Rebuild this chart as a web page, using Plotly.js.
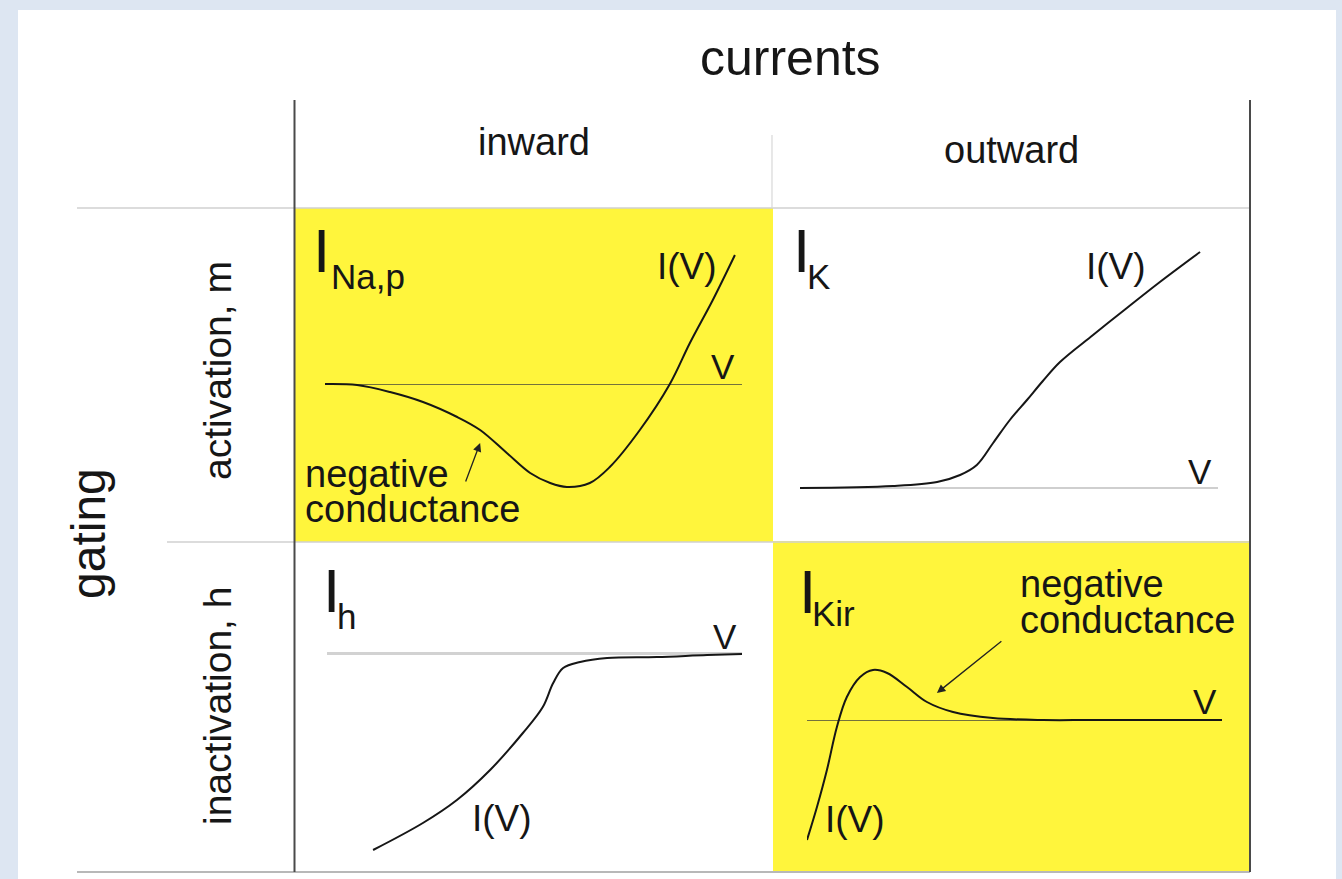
<!DOCTYPE html>
<html>
<head>
<meta charset="utf-8">
<script src="https://cdn.plot.ly/plotly-3.0.1.min.js"></script>
<style>
  html, body { margin: 0; padding: 0; background: #dde6f2; }
  #chart { width: 1342px; height: 879px; }
</style>
</head>
<body>
<div id="chart"></div>
<script>
// Schematic I-V curves of four gated currents.
// V is given in percent of the drawn voltage axis, I in arbitrary units (0 = the V axis).

// persistent sodium current, I_Na,p (activation, inward)
const napV = [0, 7.7, 15.6, 23.5, 31.7, 37.2, 43.6, 49.2, 54.0, 58.0, 63.5, 68.3, 75.5, 82.7, 87.5, 93.0, 98.3];
const napI = [0, -0.01, -0.08, -0.18, -0.33, -0.46, -0.69, -0.89, -0.99, -1.03, -0.99, -0.83, -0.46, 0, 0.41, 0.84, 1.29];

// delayed rectifier potassium current, I_K (activation, outward)
const kV = [0, 22.2, 32.8, 38.3, 42.3, 46.2, 50.2, 54.3, 58.1, 62.2, 70.1, 78.2, 86.1, 95.7];
const kI = [0, 0.02, 0.06, 0.13, 0.23, 0.45, 0.68, 0.88, 1.07, 1.26, 1.53, 1.80, 2.06, 2.36];

// hyperpolarization-activated current, I_h (inactivation, inward)
const hV = [11.1, 23.1, 31.3, 39.3, 47.2, 52.0, 54.5, 56.9, 61.0, 67.5, 79.5, 91.6, 100];
const hI = [-1.97, -1.70, -1.47, -1.17, -0.80, -0.54, -0.30, -0.15, -0.09, -0.05, -0.04, -0.02, -0.01];

// inward rectifier potassium current, I_Kir (inactivation, outward)
const kirV = [0, 2.4, 4.8, 7.2, 9.6, 12.8, 15.9, 19.3, 24.1, 28.9, 35.2, 44.8, 56.9, 68.9, 100];
const kirI = [-1.20, -0.87, -0.50, -0.07, 0.23, 0.43, 0.50, 0.47, 0.33, 0.18, 0.08, 0.02, 0.0, 0.0, 0.0];

// Tip and tail of the "negative conductance" pointers, in each panel's V/I units
const napArrow = { v: 37.2, i: -0.59, tailV: 33.6, tailI: -0.99 };
const kirArrow = { v: 31.3, i: 0.27, tailV: 47.2, tailI: 0.80 };

// Text
const colHeader = 'currents';
const colLabels = ['inward', 'outward'];
const rowHeader = 'gating';
const rowLabels = ['activation, m', 'inactivation, h'];
const currentSubs = ['Na,p', 'K', 'h', 'Kir'];

// ---------- layout geometry (pixels) ----------
const W = 1342, H = 879;
const PX_PER_UNIT = 100;
const fx = x => x / W;
const fy = y => 1 - y / H;

// each panel: extent of the V axis, cell top/bottom, pixel row of I = 0, V-axis line style
const panels = [
  { ax0: 325, ax1: 742, top: 208, bottom: 542, zero: 384, zc: 'rgba(70,70,60,0.75)', zw: 1 },
  { ax0: 800, ax1: 1218, top: 208, bottom: 542, zero: 488, zc: '#cfcfcf', zw: 1.5 },
  { ax0: 327, ax1: 742, top: 542, bottom: 872, zero: 653, zc: '#d2d2d2', zw: 3 },
  { ax0: 807, ax1: 1222, top: 542, bottom: 872, zero: 720, zc: 'rgba(70,70,60,0.75)', zw: 1 }
];

const series = [[napV, napI], [kV, kI], [hV, hI], [kirV, kirI]];
const INK = '#161616';

const data = series.map((s, k) => ({
  x: s[0], y: s[1],
  xaxis: k === 0 ? 'x' : 'x' + (k + 1),
  yaxis: k === 0 ? 'y' : 'y' + (k + 1),
  type: 'scatter', mode: 'lines',
  line: { shape: 'spline', smoothing: 1.0, color: INK, width: 2 },
  hoverinfo: 'skip'
}));

const layout = {
  width: W, height: H,
  margin: { l: 0, r: 0, t: 0, b: 0, pad: 0 },
  paper_bgcolor: '#dde6f2',
  plot_bgcolor: 'rgba(0,0,0,0)',
  showlegend: false,
  font: { family: 'Liberation Sans, Arial, Helvetica, sans-serif', color: INK },
  shapes: [],
  annotations: []
};

panels.forEach((p, k) => {
  const sx = k === 0 ? '' : String(k + 1);
  layout['xaxis' + sx] = {
    domain: [fx(p.ax0), fx(p.ax1)], range: [0, 100],
    anchor: 'y' + sx,
    showgrid: false, zeroline: false, showline: false,
    showticklabels: false, ticks: '', fixedrange: true
  };
  layout['yaxis' + sx] = {
    domain: [fy(p.bottom), fy(p.top)],
    range: [-(p.bottom - p.zero) / PX_PER_UNIT, (p.zero - p.top) / PX_PER_UNIT],
    anchor: 'x' + sx,
    showgrid: false, zeroline: true, zerolinecolor: p.zc, zerolinewidth: p.zw,
    showline: false, showticklabels: false, ticks: '', fixedrange: true
  };
});

// ---------- background sheet, highlighted cells and table rules ----------
const rect = (x0, y0, x1, y1, fill) => ({
  type: 'rect', xref: 'paper', yref: 'paper', layer: 'below',
  x0: fx(x0), x1: fx(x1), y0: fy(y1), y1: fy(y0),
  fillcolor: fill, line: { width: 0 }
});
const rule = (x0, y0, x1, y1, color, width) => ({
  type: 'line', xref: 'paper', yref: 'paper', layer: 'below',
  x0: fx(x0), x1: fx(x1), y0: fy(y0), y1: fy(y1),
  line: { color: color, width: width }
});

const YELLOW = '#fff53c';
layout.shapes.push(
  rect(18, 10, 1336, 879, '#ffffff'),
  rect(295, 208, 773, 542, YELLOW),
  rect(773, 541, 1250, 872, YELLOW),
  rule(77, 208, 1250, 208, '#d0d0d0', 1.5),
  rule(167, 542, 1250, 542, '#d0d0d0', 1.5),
  rule(77, 872, 1250, 872, '#b8b8b8', 2),
  rule(772, 135, 772, 208, '#d8d8d8', 1.2),
  rule(294.5, 100, 294.5, 872, '#4a4a4a', 2),
  rule(1250, 100, 1250, 872, '#4a4a4a', 2)
);

// ---------- text ----------
const txt = (text, x, y, size, extra) => Object.assign({
  text: text, xref: 'paper', yref: 'paper', x: fx(x), y: fy(y),
  xanchor: 'center', yanchor: 'middle', showarrow: false,
  font: { size: size, color: INK }
}, extra || {});

layout.annotations.push(
  txt(colHeader, 790, 58, 50),
  txt(colLabels[0], 534, 142, 38),
  txt(colLabels[1], 1011, 150, 38),
  txt(rowHeader, 88, 534, 48, { textangle: -90 }),
  txt(rowLabels[0], 217, 371, 39, { textangle: -90 }),
  txt(rowLabels[1], 217, 706, 39, { textangle: -90 })
);

// current names: a large "I" with its subscript
const names = [
  { ix: 311, iy: 250.5, sx: 329, sy: 276 },
  { ix: 791, iy: 250.5, sx: 805, sy: 276 },
  { ix: 321, iy: 590.5, sx: 335, sy: 616 },
  { ix: 797, iy: 591.5, sx: 810, sy: 613 }
];
names.forEach((n, k) => {
  layout.annotations.push(
    txt('I', n.ix, n.iy, 62, { xanchor: 'left' }),
    txt(currentSubs[k], n.sx, n.sy, 35, { xanchor: 'left' })
  );
});

// curve and axis labels
const ivPos = [[687, 266], [1116, 266], [502, 818], [855, 819]];
const vPos = [[723, 366], [1200, 471], [725, 636], [1205, 701]];
ivPos.forEach(p => layout.annotations.push(txt('I(V)', p[0], p[1], 37)));
vPos.forEach(p => layout.annotations.push(txt('V', p[0], p[1], 35)));

// "negative conductance" notes
layout.annotations.push(
  txt('negative', 303, 474, 38, { xanchor: 'left' }),
  txt('conductance', 303, 509, 38, { xanchor: 'left' }),
  txt('negative', 1018, 584, 38, { xanchor: 'left' }),
  txt('conductance', 1018, 620, 38, { xanchor: 'left' })
);

const pointer = (a, xr, yr) => ({
  text: '', xref: xr, yref: yr, axref: xr, ayref: yr,
  x: a.v, y: a.i, ax: a.tailV, ay: a.tailI,
  showarrow: true, arrowhead: 2, arrowsize: 1.3, arrowwidth: 1.3,
  arrowcolor: '#222', standoff: 0, startstandoff: 0
});
layout.annotations.push(pointer(napArrow, 'x', 'y'), pointer(kirArrow, 'x4', 'y4'));

Plotly.newPlot('chart', data, layout, { staticPlot: true, displayModeBar: false });
</script>
</body>
</html>
